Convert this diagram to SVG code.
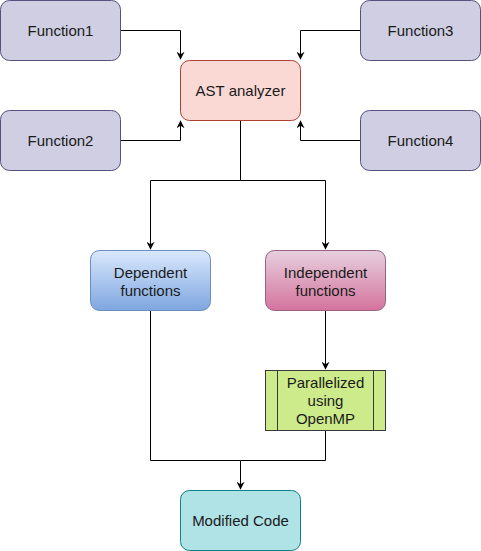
<svg xmlns="http://www.w3.org/2000/svg" width="481" height="551" viewBox="0 0 481 551">
<defs>
<linearGradient id="gDep" x1="0" y1="0" x2="0" y2="1"><stop offset="0" stop-color="#dae8fc"/><stop offset="1" stop-color="#7ea6e0"/></linearGradient>
<linearGradient id="gInd" x1="0" y1="0" x2="0" y2="1"><stop offset="0" stop-color="#e6d0de"/><stop offset="1" stop-color="#d5739d"/></linearGradient>
<marker id="arr" viewBox="0 0 10 10" refX="9" refY="5" markerWidth="8" markerHeight="8" markerUnits="userSpaceOnUse" orient="auto">
<path d="M0,0 L10,5 L0,10 L3,5 Z" fill="#000"/>
</marker>
</defs>
<style>
text{font-family:"Liberation Sans",Arial,sans-serif;font-size:15px;fill:#1a1a1a;text-anchor:middle;}
.fn{fill:#d0cee2;stroke:#56517e;}
.c{fill:none;stroke:#000;stroke-width:1;}
</style>
<g id="connectors">
<path class="c" d="M120.5,30.5 H180.5 V59" marker-end="url(#arr)"/>
<path class="c" d="M360.5,30.5 H300.5 V59" marker-end="url(#arr)"/>
<path class="c" d="M120.5,140.5 H180.5 V121" marker-end="url(#arr)"/>
<path class="c" d="M360.5,140.5 H300.5 V121" marker-end="url(#arr)"/>
<path class="c" d="M240.5,120.5 V180.5 H150.5 V249" marker-end="url(#arr)"/>
<path class="c" d="M240.5,180.5 H325.5 V249" marker-end="url(#arr)"/>
<path class="c" d="M325.5,310.5 V369" marker-end="url(#arr)"/>
<path class="c" d="M150.5,310.5 V460.5 H240.5 V489" marker-end="url(#arr)"/>
<path class="c" d="M325.5,430.5 V460.5 H240.5"/>
</g>
<g id="function1"><rect class="fn" x="0.5" y="0.5" width="120" height="60" rx="9"/><text x="60.5" y="35.5">Function1</text></g>
<g id="function3"><rect class="fn" x="360.5" y="0.5" width="120" height="60" rx="9"/><text x="420.5" y="35.5">Function3</text></g>
<g id="function2"><rect class="fn" x="0.5" y="110.5" width="120" height="60" rx="9"/><text x="60.5" y="145.5">Function2</text></g>
<g id="function4"><rect class="fn" x="360.5" y="110.5" width="120" height="60" rx="9"/><text x="420.5" y="145.5">Function4</text></g>
<g id="ast"><rect x="180.5" y="60.5" width="120" height="60" rx="9" fill="#fad9d5" stroke="#ae4132"/><text x="240.5" y="95.5">AST analyzer</text></g>
<g id="dependent"><rect x="90.5" y="250.5" width="120" height="60" rx="9" fill="url(#gDep)" stroke="#6c8ebf"/><text x="150.5" y="277.5">Dependent</text><text x="150.5" y="295.5">functions</text></g>
<g id="independent"><rect x="265.5" y="250.5" width="120" height="60" rx="9" fill="url(#gInd)" stroke="#996185"/><text x="325.5" y="277.5">Independent</text><text x="325.5" y="295.5">functions</text></g>
<g id="parallelized"><rect x="265.5" y="370.5" width="120" height="60" fill="#cdeb8b" stroke="#36393d"/><path d="M277.5,370.5 V430.5 M373.5,370.5 V430.5" stroke="#36393d" fill="none"/><text x="325.5" y="388">Parallelized</text><text x="325.5" y="406">using</text><text x="325.5" y="424">OpenMP</text></g>
<g id="modified"><rect x="180.5" y="490.5" width="120" height="60" rx="9" fill="#b0e3e6" stroke="#0e8088"/><text x="240.5" y="526">Modified Code</text></g>
</svg>
